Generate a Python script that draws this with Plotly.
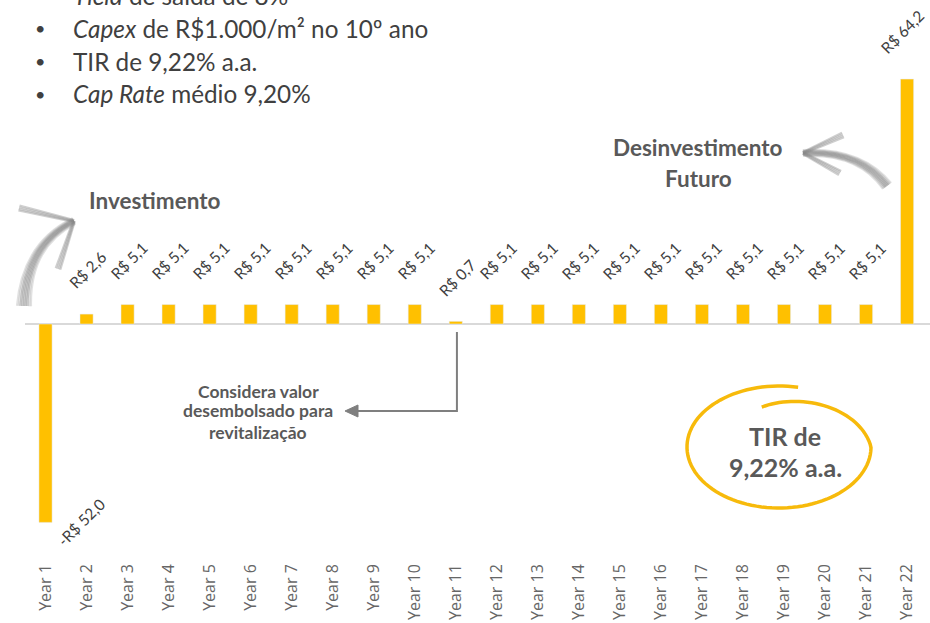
import math
import plotly.graph_objects as go

# ---------------- data ----------------
years = ["Year 1", "Year 2", "Year 3", "Year 4", "Year 5", "Year 6", "Year 7",
         "Year 8", "Year 9", "Year 10", "Year 11", "Year 12", "Year 13", "Year 14",
         "Year 15", "Year 16", "Year 17", "Year 18", "Year 19", "Year 20",
         "Year 21", "Year 22"]
cash_flow = [-52.0, 2.6, 5.1, 5.1, 5.1, 5.1, 5.1, 5.1, 5.1, 5.1, 0.7,
             5.1, 5.1, 5.1, 5.1, 5.1, 5.1, 5.1, 5.1, 5.1, 5.1, 64.2]
bullets = ["<i>Yield</i> de saída de 8%",
           "<i>Capex</i> de R$1.000/m² no 10º ano",
           "TIR de 9,22% a.a.",
           "<i>Cap Rate</i> médio 9,20%"]
note_year = "Year 11"
note_text = ["Considera valor", "desembolsado para", "revitalização"]
tir_text = ["TIR de", "9,22% a.a."]

# ---------------- layout helpers ----------------
W, H = 930, 623
ML, MR, MT, MB = 25, 0, 0, 63
PW, PH = W - ML - MR, H - MT - MB


def px(x):
    return (x - ML) / PW


def py(y):
    return 1 - (y - MT) / PH


def fmt(v):
    s = f"{abs(v):.1f}".replace(".", ",")
    return ("-" if v < 0 else "") + "R$ " + s


CALIBRI = "Lato"
GREY_TXT = "#595959"
DARK_TXT = "#404040"
GOLD = "#FFC000"

fig = go.Figure()
fig.add_trace(go.Bar(x=years, y=cash_flow, marker_color=GOLD, width=0.32,
                     hoverinfo="x+y"))

ann = []
# data labels
for i, (yr, v) in enumerate(zip(years, cash_flow)):
    if v >= 0:
        ann.append(dict(x=yr, y=v, xref="x", yref="y", text=fmt(v), textangle=-45,
                        showarrow=False, xanchor="center", yanchor="bottom",
                        xshift=1 if i < len(years) - 1 else -5, yshift=19,
                        font=dict(family=CALIBRI, size=15.5, color=DARK_TXT)))
    else:
        ann.append(dict(x=yr, y=v, xref="x", yref="y", text=fmt(v), textangle=-45,
                        showarrow=False, xanchor="center", yanchor="middle",
                        xshift=36, yshift=0,
                        font=dict(family=CALIBRI, size=15.5, color=DARK_TXT)))

# bullet list at top-left
line_y = [-5, 28, 61, 94]
for t, yy in zip(bullets, line_y):
    ann.append(dict(x=px(40), y=py(yy), xref="paper", yref="paper", text="•",
                    showarrow=False, xanchor="center", yanchor="middle",
                    font=dict(family=CALIBRI, size=18, color=DARK_TXT)))
    ann.append(dict(x=px(71), y=py(yy), xref="paper", yref="paper", text=t,
                    showarrow=False, xanchor="left", yanchor="middle",
                    font=dict(family=CALIBRI, size=24.3, color=DARK_TXT)))


def label(text, x, y, size):
    ann.append(dict(x=px(x), y=py(y), xref="paper", yref="paper",
                    text=f"<b>{text}</b>", showarrow=False,
                    xanchor="center", yanchor="middle",
                    font=dict(family=CALIBRI, size=size, color=GREY_TXT)))


# headings
label("Investimento", 155, 200, 22.5)
label("Desinvestimento", 698, 148, 22.5)
label("Futuro", 698, 178, 22.5)

# note about revitalization
for t, yy in zip(note_text, [391, 411, 432]):
    label(t, 258, yy, 17.5)

# TIR bubble text
for t, yy in zip(tir_text, [436, 467]):
    label(t, 785, yy, 25)

shapes = []


def P(x, y):
    return f"{px(x):.5f},{py(y):.5f}"


def unit_normal(ax, ay, bx, by):
    dx, dy = bx - ax, by - ay
    L = math.hypot(dx, dy)
    return -dy / L, dx / L


# sketchy hand-drawn arrows: bundles of thin translucent strokes
def sketch_arrow(shaft, barbs, w0, w1):
    (x0, y0), (cx, cy), (x1, y1) = shaft
    n0 = unit_normal(x0, y0, cx, cy)
    n1 = unit_normal(cx, cy, x1, y1)
    nc = ((n0[0] + n1[0]) / 2, (n0[1] + n1[1]) / 2)
    ks = [-1.0, -0.75, -0.5, -0.25, 0.0, 0.25, 0.5, 0.75, 1.0]
    for k in ks:
        d0, dc, d1 = k * w0, k * (w0 + w1) / 2, k * w1
        path = (f"M {P(x0 + n0[0]*d0, y0 + n0[1]*d0)} "
                f"Q {P(cx + nc[0]*dc, cy + nc[1]*dc)} "
                f"{P(x1 + n1[0]*d1, y1 + n1[1]*d1)}")
        a = 0.45 if abs(k) < 0.6 else 0.25
        shapes.append(dict(type="path", xref="paper", yref="paper", path=path,
                           line=dict(color=f"rgba(135,135,135,{a})", width=2.2)))
    for (bx, by) in barbs:
        nb = unit_normal(x1, y1, bx, by)
        for k in [-1.0, -0.4, 0.3, 1.0]:
            d = k * 2.5
            p2 = (f"M {P(x1 + nb[0]*d*0.4, y1 + nb[1]*d*0.4)} "
                  f"L {P(bx + nb[0]*d, by + nb[1]*d)}")
            shapes.append(dict(type="path", xref="paper", yref="paper", path=p2,
                               line=dict(color="rgba(135,135,135,0.4)", width=2)))


sketch_arrow(((24, 306), (26, 245), (74, 221)), [(19, 208), (58, 269)], 7, 3)
sketch_arrow(((887, 186), (860, 150), (803, 153)), [(843, 135), (840, 173)], 5, 3)

# connector from Year 11 bar to note
i11 = years.index(note_year)
xc = ML + (i11 + 0.5) * PW / len(years)
shapes.append(dict(type="path", xref="paper", yref="paper",
                   path=f"M {P(xc, 332)} L {P(xc, 411)} L {P(356, 411)}",
                   line=dict(color="#7F7F7F", width=2)))
shapes.append(dict(type="path", xref="paper", yref="paper",
                   path=f"M {P(345, 411)} L {P(358, 405)} L {P(358, 417)} Z",
                   fillcolor="#7F7F7F", line=dict(color="#7F7F7F", width=1)))

# hand-drawn ellipse around TIR
cx0, cy0, rx, ry = 779, 447, 92, 61
pts = []
n = 120
t0, t1 = -78, -466
for k in range(n + 1):
    t = t0 + (t1 - t0) * k / n
    s = 1.0 if t > -360 else 1.0 - 0.32 * (-360 - t) / (-360 - t1)
    a = math.radians(t)
    pts.append((cx0 + rx * s * math.cos(a), cy0 + ry * s * math.sin(a)))
path = "M " + " L ".join(P(x, y) for x, y in pts)
shapes.append(dict(type="path", xref="paper", yref="paper", path=path,
                   line=dict(color="#F7BA0B", width=3.5)))

fig.update_layout(
    width=W, height=H,
    margin=dict(l=ML, r=MR, t=MT, b=MB),
    paper_bgcolor="white", plot_bgcolor="white",
    showlegend=False,
    bargap=0.68,
    xaxis=dict(type="category", tickangle=-90, showgrid=False, showline=False,
               ticks="", zeroline=False,
               tickfont=dict(family="Open Sans", size=16, color="#666666")),
    yaxis=dict(range=[-61.86, 84.93], showgrid=False, showticklabels=False,
               zeroline=True, zerolinecolor="#D9D9D9", zerolinewidth=2,
               showline=False, ticks=""),
    annotations=ann,
    shapes=shapes,
)

fig.write_html("out.html",
               config={"displayModeBar": False},
               post_script="document.body.style.margin='0px';"
                           "document.body.style.overflow='hidden';")
